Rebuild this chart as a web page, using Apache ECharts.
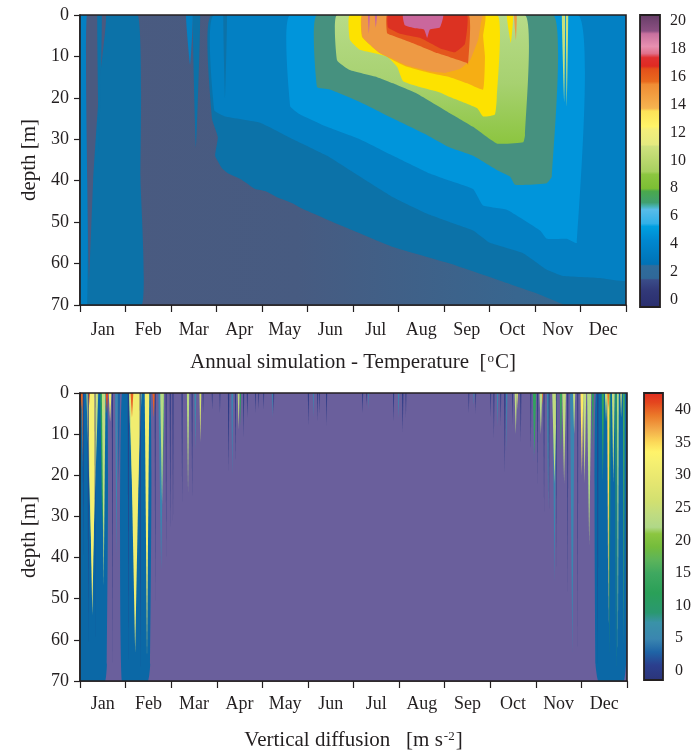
<!DOCTYPE html>
<html>
<head>
<meta charset="utf-8">
<script src="https://cdn.jsdelivr.net/npm/echarts@6/dist/echarts.min.js"></script>
<style>
  html, body { margin: 0; padding: 0; background: #ffffff; }
  #chart { width: 695px; height: 755px; }
</style>
</head>
<body>
<div id="chart"></div>
<script>
// ---------------- DATA ----------------
const MONTHS = ['Jan', 'Feb', 'Mar', 'Apr', 'May', 'Jun', 'Jul', 'Aug', 'Sep', 'Oct', 'Nov', 'Dec'];
const TEMP_BAR_TICKS = [0, 2, 4, 6, 8, 10, 12, 14, 16, 18, 20];
const DIFF_BAR_TICKS = [0, 5, 10, 15, 20, 25, 30, 35, 40];

// Temperature: isotherm outlines [month (0-12), depth m]; each region is filled up to the surface.
const T_ALL        = [[0, 70], [12, 70]];
const T_JAN_COLD   = [[0, 70], [1.36, 70], [1.33, 40], [1.27, 0]];
const T_JAN_EDGE   = [[0, 70], [0.16, 70], [0.16, 0]];
const T_JAN_WEDGE  = [[0.15, 0], [0.16, 40], [0.20, 64], [0.29, 40], [0.44, 15], [0.57, 0]];
const T_JAN_SLIVER = [[0.38, 0], [0.42, 33], [0.48, 0]];
const T_MAR_ST_A   = [[2.33, 0], [2.42, 12], [2.48, 0]];
const T_MAR_ST_B   = [[2.48, 0], [2.55, 32], [2.64, 0]];
const T_ISO_3 = [[2.90, 0], [2.90, 25], [3.03, 29.5], [2.97, 34], [3.12, 37], [3.25, 38.2], [3.56, 39.8],
  [3.85, 42], [4.07, 42.5], [4.33, 44], [4.68, 45.5], [4.84, 46.5], [5.78, 51], [6.88, 56], [8.13, 60],
  [9.38, 64.7], [10.11, 67.5], [10.55, 69.5], [10.68, 70], [12, 70]];
const T_ISO_4 = [[2.95, 0], [2.95, 23], [3.19, 24.5], [3.96, 26], [4.68, 30], [5.43, 34], [6.15, 39],
  [6.88, 44], [7.63, 48], [8.13, 50], [8.64, 52], [9.01, 55], [9.74, 57.5], [10.26, 61.5], [10.62, 63],
  [11.43, 63.5], [12, 64]];
const T_APR_ST = [[3.15, 0], [3.19, 20], [3.23, 0]];
const T_ISO_5 = [[4.62, 0], [4.62, 22], [4.84, 24], [5.43, 27], [6.15, 30], [6.88, 34], [7.63, 38],
  [8.13, 40], [8.64, 42], [8.86, 46], [9.38, 47], [10.11, 52], [10.26, 54], [10.70, 54], [10.92, 55], [10.95, 0]];
const T_ISO_6 = [[5.21, 0], [5.21, 17.4], [5.49, 18], [6.15, 21], [6.88, 25], [7.63, 29], [8.13, 32],
  [8.64, 34], [9.16, 37.4], [9.45, 39], [9.56, 41], [9.82, 41], [10.26, 40.6], [10.37, 39], [10.40, 0]];
const T_ISO_8 = [[5.65, 0], [5.65, 10.9], [5.93, 13.3], [6.53, 15], [6.88, 16.5], [7.41, 19], [8.13, 23.7],
  [8.64, 27], [9.16, 31], [9.74, 30.7], [9.78, 29], [9.78, 0]];
const T_ISO_11 = [[5.93, 0], [5.93, 6], [6.15, 8.4], [6.75, 10], [6.97, 12.5], [7.10, 16], [7.47, 17.4],
  [7.91, 18.7], [8.13, 19.8], [8.73, 22.5], [8.86, 24.5], [9.12, 24], [9.16, 20], [9.17, 0]];
const T_ISO_12 = [[6.20, 0], [6.20, 5.3], [6.59, 9.2], [6.88, 10.9], [7.19, 12.5], [7.69, 14], [8.13, 15],
  [8.51, 16.5], [8.86, 18], [8.90, 10], [8.86, 5], [8.90, 0]];
const T_ISO_13 = [[6.21, 0], [6.21, 5.3], [6.59, 9.2], [6.88, 10.6], [7.19, 12.2], [7.69, 13.6], [8.02, 14],
  [8.35, 13], [8.57, 11], [8.75, 6], [8.81, 2], [8.84, 0]];
const T_ISO_14 = [[6.75, 0], [6.75, 4.4], [6.88, 5], [7.32, 6.8], [7.85, 9.2], [8.13, 10.2], [8.51, 11.6],
  [8.53, 12], [8.54, 0]];
const T_ISO_16 = [[6.77, 0], [6.77, 3], [7.03, 4.5], [7.47, 5.5], [7.91, 8], [8.24, 9], [8.46, 7], [8.50, 0]];
const T_ISO_18 = [[7.10, 0], [7.14, 2.5], [7.36, 3.2], [7.56, 3.5], [7.63, 5.5], [7.69, 3.5], [7.91, 3], [7.98, 0]];
const T_JUL_DRIP_A = [[6.33, 0], [6.35, 4.5], [6.37, 0]];
const T_JUL_DRIP_B = [[6.48, 0], [6.50, 3], [6.53, 0]];
const T_OCT_ST_A = [[9.38, 0], [9.47, 6.8], [9.52, 0]];
const T_OCT_ST_B = [[9.54, 0], [9.58, 6], [9.60, 0]];
const T_NOV_ST_A = [[10.59, 0], [10.64, 21], [10.66, 0]];
const T_NOV_ST_B = [[10.68, 0], [10.70, 22], [10.73, 0]];

// Drawing order of temperature regions: [temperature level °C, outline]
const TEMP_REGIONS = [
  [2, T_ALL], [3, T_JAN_COLD], [4, T_JAN_EDGE], [2, T_JAN_WEDGE], [3, T_JAN_SLIVER],
  [4, T_MAR_ST_A], [3, T_MAR_ST_B],
  [3, T_ISO_3], [4, T_ISO_4], [3, T_APR_ST], [5, T_ISO_5], [6, T_ISO_6], [8, T_ISO_8],
  [11, T_ISO_11], [12, T_ISO_12], [13, T_ISO_13], [14, T_ISO_14], [16, T_ISO_16], [18, T_ISO_18],
  [18, T_JUL_DRIP_A], [18, T_JUL_DRIP_B], [11, T_OCT_ST_A], [13, T_OCT_ST_B],
  [9, T_NOV_ST_A], [9, T_NOV_ST_B]
];

// Vertical diffusion: mixed blocks (full-depth) and streaks from the surface
const D_ALL = [[0, 70], [12, 70]];
const D_JAN_BLOCK = [[0, 70], [0.55, 70], [0.59, 66], [0.59, 0]];
const D_FEB_BLOCK = [[0.92, 0], [0.92, 70], [1.49, 70], [1.54, 66], [1.54, 0]];
const D_DEC_BLOCK = [[11.32, 0], [11.31, 66], [11.37, 70], [11.93, 70], [11.99, 64], [12, 50]];
const DIFF_REGIONS = [['bg', D_ALL], ['mix', D_JAN_BLOCK], ['mix', D_FEB_BLOCK], ['mix', D_DEC_BLOCK]];

// streaks: [month, half width (month), depth m, diffusion value]
const D_STREAKS = [
  [0.03, 0.02, 4, 40], [0.05, 0.015, 18, 39], [0.07, 0.01, 42, 0], [0.18, 0.012, 62, 0], [0.20, 0.02, 3, 40],
  [0.27, 0.13, 45, 23], [0.27, 0.09, 54, 32], [0.33, 0.01, 60, 0], [0.49, 0.045, 34, 12], [0.52, 0.04, 47, 24],
  [0.59, 0.025, 5, 41], [0.66, 0.03, 7, 30], [0.71, 0.012, 68, 0], [0.80, 0.03, 40, 5], [0.85, 0.03, 22, 3],
  [1.06, 0.012, 68, 0], [1.14, 0.03, 6, 40], [1.21, 0.14, 42, 23], [1.21, 0.11, 63, 31], [1.32, 0.012, 68, 0],
  [1.47, 0.05, 64, 31], [1.62, 0.03, 6, 40], [1.65, 0.012, 51, 0], [1.78, 0.06, 43, 5], [1.80, 0.04, 27, 23],
  [1.82, 0.02, 22, 12], [1.89, 0.012, 40, 0], [1.98, 0.012, 34, 0], [2.04, 0.012, 32, 0], [2.24, 0.012, 27, 0],
  [2.37, 0.025, 24, 23], [2.46, 0.012, 26, 0], [2.53, 0.02, 14, 6], [2.64, 0.02, 12, 26], [2.70, 0.01, 5, 0],
  [2.90, 0.01, 4, 0], [3.07, 0.01, 5, 0], [3.26, 0.015, 19, 0], [3.34, 0.02, 20, 5], [3.41, 0.012, 17, 0],
  [3.48, 0.02, 9, 24], [3.52, 0.012, 8, 12], [3.59, 0.012, 11, 0], [3.67, 0.012, 6, 0], [3.85, 0.01, 5, 0],
  [3.92, 0.01, 4, 0], [4.03, 0.01, 4, 0], [4.22, 0.012, 6, 5], [4.25, 0.01, 5, 0], [5.01, 0.012, 8, 0],
  [5.12, 0.012, 6, 5], [5.21, 0.01, 7, 0], [5.25, 0.01, 5, 0], [5.41, 0.012, 8, 0], [6.20, 0.012, 5, 0],
  [6.29, 0.01, 3, 0], [6.33, 0.01, 4, 5], [6.88, 0.012, 7, 0], [6.99, 0.015, 6, 5], [7.08, 0.015, 9.5, 0],
  [7.15, 0.01, 6, 0], [8.53, 0.01, 5, 0], [8.64, 0.012, 3, 5], [8.68, 0.01, 5, 0], [9.01, 0.01, 6, 0],
  [9.08, 0.012, 11, 0], [9.16, 0.015, 8, 5], [9.23, 0.01, 8, 0], [9.32, 0.015, 19.5, 0], [9.36, 0.015, 14, 5],
  [9.49, 0.01, 8, 0], [9.56, 0.025, 10, 24], [9.60, 0.01, 4, 30], [9.67, 0.012, 12, 0], [9.89, 0.012, 14, 0],
  [9.97, 0.035, 15, 13], [9.96, 0.015, 17, 5], [10.04, 0.012, 22, 0], [10.11, 0.03, 10, 23], [10.15, 0.012, 3, 39],
  [10.18, 0.012, 29, 0], [10.27, 0.025, 28, 6], [10.29, 0.01, 29, 0], [10.41, 0.04, 46, 5], [10.41, 0.05, 22, 24],
  [10.45, 0.01, 43, 0], [10.55, 0.025, 15, 14], [10.62, 0.04, 22, 24], [10.70, 0.012, 50, 0], [10.80, 0.05, 63, 5],
  [10.84, 0.025, 10, 24], [10.92, 0.01, 63, 0], [11.01, 0.03, 20, 34], [11.07, 0.035, 22, 24], [11.17, 0.04, 30, 6],
  [11.17, 0.045, 37, 23], [11.25, 0.02, 14, 12], [11.36, 0.012, 68, 0], [11.47, 0.025, 22, 13], [11.54, 0.025, 7, 24],
  [11.59, 0.025, 57, 35], [11.59, 0.02, 4, 39], [11.62, 0.02, 64, 12], [11.70, 0.03, 22, 24], [11.76, 0.015, 68, 13],
  [11.80, 0.02, 64, 22], [11.87, 0.015, 6, 30], [11.93, 0.02, 62, 15]
];

// ---------------- STYLE ----------------
const FONT = 'Liberation Serif';
const INK = '#231f20';
const TEMP_FILL = {
  3: '#0c72a8', 4: '#0380c3', 5: '#0095db', 6: '#46917f', 9: '#c6df7c', 11: '#fde200',
  12: '#f6ae14', 13: '#ee9a44', 14: '#e4561d', 16: '#dc3222', 18: '#ca679c'
};
const TEMP_CMAP = [[-0.5, '#2a2e6e'], [0.7, '#313878'], [1.5, '#3a4c88'], [1.6, '#2f6898'], [2.5, '#2f6c9c'],
  [2.6, '#0072b6'], [4.3, '#0088d0'], [5.3, '#00a0e0'], [5.5, '#30b0e8'], [6.5, '#58bce8'], [6.7, '#48b4b8'],
  [7.0, '#40a070'], [7.8, '#4aa84c'], [8.0, '#7cbe34'], [9.0, '#8cc640'], [9.2, '#a8d060'], [11, '#cfe27e'],
  [11.1, '#e4ea80'], [12.2, '#f4ee7a'], [12.4, '#fff468'], [13.5, '#fde258'], [13.7, '#f6b450'], [15.4, '#f08c34'],
  [15.6, '#e96a1e'], [16.5, '#e4501a'], [16.7, '#e02a22'], [17.3, '#e03030'], [17.6, '#e0708a'], [18.1, '#e890b0'],
  [19.0, '#c8709e'], [19.2, '#8c5082'], [20.4, '#643c66']];
const DIFF_CMAP = [[-1.4, '#2c3478'], [1, '#2b3f8e'], [3, '#1f64a6'], [5, '#3a86b0'], [7.5, '#3a92a8'],
  [9, '#2a9870'], [12, '#2aa058'], [15, '#3fa860'], [17, '#5cb45a'], [19, '#74bc3c'], [21, '#8cc640'],
  [22, '#b0d888'], [24, '#c0dc80'], [26, '#d2e070'], [29, '#e6e670'], [32, '#f6f070'], [33.5, '#fff36a'],
  [35, '#fcd858'], [37, '#f2a848'], [39, '#eb7a2a'], [41, '#e4461e'], [42.6, '#e02a20']];

function hexToRgb(h) { return [parseInt(h.slice(1, 3), 16), parseInt(h.slice(3, 5), 16), parseInt(h.slice(5, 7), 16)]; }
function colorAt(stops, v) {
  if (v <= stops[0][0]) return stops[0][1];
  for (let i = 1; i < stops.length; i++) {
    if (v <= stops[i][0]) {
      const a = stops[i - 1], b = stops[i];
      const f = (v - a[0]) / (b[0] - a[0]);
      const ca = hexToRgb(a[1]), cb = hexToRgb(b[1]);
      const c = ca.map((x, k) => Math.round(x + (cb[k] - x) * f));
      return 'rgb(' + c.join(',') + ')';
    }
  }
  return stops[stops.length - 1][1];
}

function tempFill(level, isBackground) {
  if (level === 2) {
    if (isBackground) {
      return new echarts.graphic.LinearGradient(0, 0, 1, 0, [
        { offset: 0, color: '#4a5a80' }, { offset: 0.4, color: '#475b81' },
        { offset: 0.8, color: '#38668f' }, { offset: 1, color: '#346990' }]);
    }
    return '#4a5a80';
  }
  if (level === 8) {
    return new echarts.graphic.LinearGradient(0, 0, 0, 1, [
      { offset: 0, color: '#b8dc8a' }, { offset: 0.55, color: '#a7d170' }, { offset: 1, color: '#8cc540' }]);
  }
  return TEMP_FILL[level];
}
function diffFill(kind) { return kind === 'bg' ? '#6a5f9c' : '#0b68a6'; }

function closedOutline(outline) {
  const pts = outline.slice();
  if (pts[0][1] !== 0) pts.unshift([pts[0][0], 0]);
  const last = pts[pts.length - 1];
  if (last[1] !== 0) pts.push([last[0], 0]);
  return pts;
}

function regionSeries(regions, fillOf, xi, yi, smooth) {
  return {
    type: 'custom', xAxisIndex: xi, yAxisIndex: yi, clip: true, silent: true,
    data: regions.map((r, i) => [r[1][0][0], r[1][0][1], i]),
    encode: { x: 0, y: 1 },
    renderItem: function (params, api) {
      const r = regions[params.dataIndex];
      const pts = closedOutline(r[1]).map(p => api.coord(p));
      return {
        type: 'polygon',
        shape: { points: pts, smooth: params.dataIndex === 0 ? 0 : smooth },
        style: { fill: fillOf(r[0], params.dataIndex === 0), stroke: null }
      };
    }
  };
}

const streaksSorted = D_STREAKS.slice().sort((a, b) => {
  const ka = a[3] === 0 ? 100 : a[3], kb = b[3] === 0 ? 100 : b[3];
  return ka - kb;
});

function streakSeries(xi, yi) {
  return {
    type: 'custom', xAxisIndex: xi, yAxisIndex: yi, clip: true, silent: true,
    data: streaksSorted,
    encode: { x: 0, y: 2 },
    renderItem: function (params, api) {
      const t = api.value(0), hw = api.value(1), d = api.value(2), v = api.value(3);
      const pts = [api.coord([t - hw, 0]), api.coord([t, d]), api.coord([t + hw, 0])];
      return { type: 'polygon', shape: { points: pts }, style: { fill: colorAt(DIFF_CMAP, v), stroke: null } };
    }
  };
}

function colorbarSeries(xi, yi, stops, vmin, vmax) {
  const grad = stops.map(s => ({ offset: (vmax - s[0]) / (vmax - vmin), color: s[1] })).reverse();
  return {
    type: 'custom', xAxisIndex: xi, yAxisIndex: yi, silent: true, clip: false,
    data: [[0, vmin]],
    encode: { x: 0, y: 1 },
    renderItem: function (params, api) {
      const p0 = api.coord([0, vmax]), p1 = api.coord([1, vmin]);
      return {
        type: 'rect',
        shape: { x: p0[0], y: p0[1], width: p1[0] - p0[0], height: p1[1] - p0[1] },
        style: { fill: new echarts.graphic.LinearGradient(0, 0, 0, 1, grad), stroke: INK, lineWidth: 1.8 }
      };
    }
  };
}

const TB_MIN = -0.5, TB_MAX = 20.4, DB_MIN = -1.4, DB_MAX = 42.6;

function monthAxis(gridIndex, title, gap, labelMargin) {
  return {
    gridIndex: gridIndex, type: 'category', data: MONTHS, boundaryGap: true, position: 'bottom',
    axisLine: { show: true, lineStyle: { color: INK, width: 1.5 } },
    axisTick: { show: true, length: 7, lineStyle: { color: INK, width: 1.2 } },
    axisLabel: { color: INK, fontFamily: FONT, fontSize: 18, margin: labelMargin },
    splitLine: { show: false },
    name: title, nameLocation: 'middle', nameGap: gap,
    nameTextStyle: {
      color: INK, fontFamily: FONT, fontSize: 21,
      rich: { sup: { color: INK, fontFamily: FONT, fontSize: 13, verticalAlign: 'top', padding: [0, 1, 0, 1] } }
    }
  };
}
function depthAxis(gridIndex) {
  return {
    gridIndex: gridIndex, type: 'value', min: 0, max: 70, interval: 10, inverse: true,
    axisLine: { show: true, lineStyle: { color: INK, width: 1.5 } },
    axisTick: { show: true, length: 6, lineStyle: { color: INK, width: 1.2 } },
    axisLabel: { color: INK, fontFamily: FONT, fontSize: 18, margin: 11 },
    splitLine: { show: false },
    name: 'depth [m]', nameLocation: 'middle', nameGap: 40, nameRotate: 90,
    nameTextStyle: { color: INK, fontFamily: FONT, fontSize: 21 }
  };
}
function barAxis(gridIndex, vmin, vmax, ticks, margin) {
  return {
    gridIndex: gridIndex, type: 'value', min: vmin, max: vmax, position: 'right',
    axisLine: { show: false }, axisTick: { show: false }, splitLine: { show: false },
    axisLabel: { color: INK, fontFamily: FONT, fontSize: 16, margin: margin, customValues: ticks }
  };
}
function hiddenX(gridIndex, max) {
  return { gridIndex: gridIndex, type: 'value', min: 0, max: max, show: false };
}

const chart = echarts.init(document.getElementById('chart'), null, { renderer: 'canvas' });
chart.setOption({
  animation: false,
  backgroundColor: '#ffffff',
  textStyle: { fontFamily: FONT },
  grid: [
    { left: 80, top: 15, width: 546, height: 290, show: true, borderColor: INK, borderWidth: 1.6, backgroundColor: 'transparent', z: 10 },
    { left: 80, top: 393, width: 547, height: 288, show: true, borderColor: INK, borderWidth: 1.6, backgroundColor: 'transparent', z: 10 },
    { left: 640, top: 15, width: 20, height: 292 },
    { left: 644, top: 393, width: 19, height: 287 }
  ],
  xAxis: [
    hiddenX(0, 12),
    monthAxis(0, 'Annual simulation - Temperature  [{sup|o}C]', 47, 16),
    hiddenX(1, 12),
    monthAxis(1, 'Vertical diffusion   [m s{sup|-2}]', 49, 14),
    hiddenX(2, 1),
    hiddenX(3, 1)
  ],
  yAxis: [
    depthAxis(0),
    depthAxis(1),
    barAxis(2, TB_MIN, TB_MAX, TEMP_BAR_TICKS, 10),
    barAxis(3, DB_MIN, DB_MAX, DIFF_BAR_TICKS, 12)
  ],
  series: [
    regionSeries(TEMP_REGIONS, tempFill, 0, 0, 0.12),
    regionSeries(DIFF_REGIONS, diffFill, 2, 1, 0.1),
    streakSeries(2, 1),
    colorbarSeries(4, 2, TEMP_CMAP, TB_MIN, TB_MAX),
    colorbarSeries(5, 3, DIFF_CMAP, DB_MIN, DB_MAX)
  ]
});
</script>
</body>
</html>
